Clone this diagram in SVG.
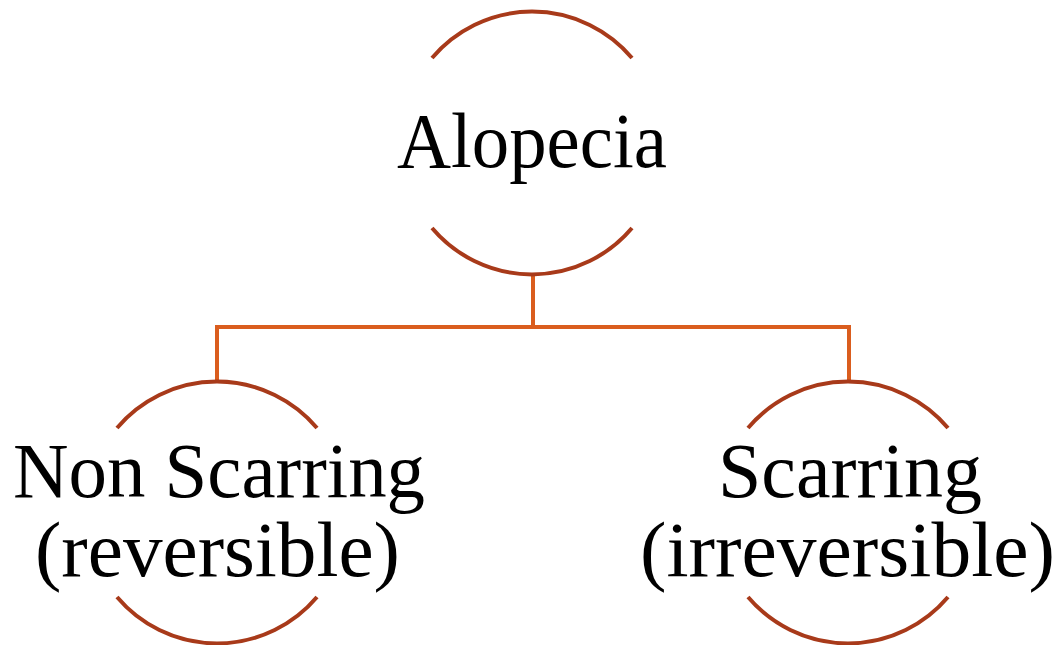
<svg xmlns="http://www.w3.org/2000/svg" width="1062" height="645" viewBox="0 0 1062 645">
<style>
.arc{fill:none;stroke:#A83A1A;stroke-width:4;stroke-linecap:butt}
.conn{fill:none;stroke:#DA5D1E;stroke-width:4;stroke-linejoin:miter}
.lbl{font-family:"Liberation Serif","DejaVu Serif",serif;font-size:78px;fill:#000;text-anchor:middle}
</style>
<rect width="1062" height="645" fill="#fff"/>
<g id="connectors">
<path class="conn" d="M533 273 V327 M217 327 H849 M217 325 V382 M849 325 V382"/>
</g>
<g id="node-alopecia">
<path class="arc" d="M432 58 A131 131 0 0 1 632 58"/>
<path class="arc" d="M432 228 A131 131 0 0 0 632 228"/>
<text class="lbl" x="532" y="167" textLength="270" lengthAdjust="spacingAndGlyphs">Alopecia</text>
</g>
<g id="node-nonscarring">
<path class="arc" d="M117 428 A131 131 0 0 1 317 428"/>
<path class="arc" d="M117 597 A131 131 0 0 0 317 597"/>
<text class="lbl" x="219" y="497" textLength="412" lengthAdjust="spacingAndGlyphs">Non Scarring</text>
<text class="lbl" x="217.5" y="576" textLength="365" lengthAdjust="spacingAndGlyphs">(reversible)</text>
</g>
<g id="node-scarring">
<path class="arc" d="M748 428 A131 131 0 0 1 948 428"/>
<path class="arc" d="M748 597 A131 131 0 0 0 948 597"/>
<text class="lbl" x="850" y="497" textLength="264" lengthAdjust="spacingAndGlyphs">Scarring</text>
<text class="lbl" x="847.5" y="576" textLength="415" lengthAdjust="spacingAndGlyphs">(irreversible)</text>
</g>
</svg>
